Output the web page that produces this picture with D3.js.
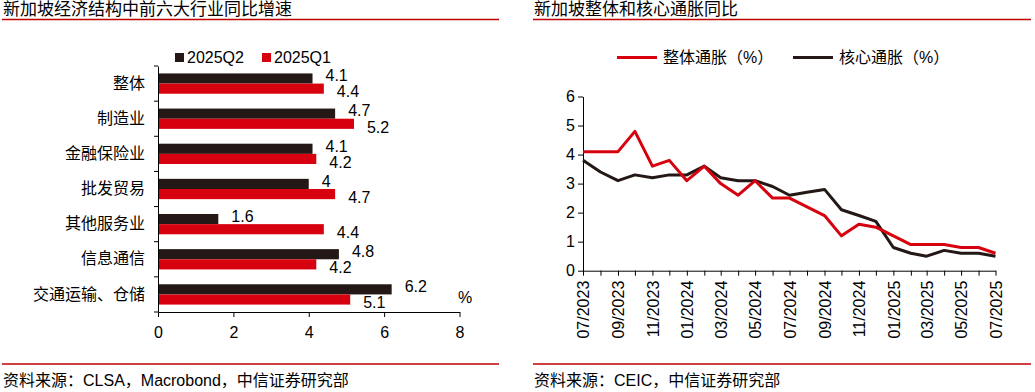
<!DOCTYPE html>
<html>
<head>
<meta charset="utf-8">
<script src="https://cdn.jsdelivr.net/npm/d3@7"></script>
<style>
  body { margin: 0; background: #fff; }
  svg text { font-family: "Liberation Sans", Arial, "Noto Sans CJK SC", sans-serif; fill: #000; }
</style>
</head>
<body>
<svg id="chart" width="1035" height="392"></svg>
<script>
  /* -----------------------
      DATA
   -------------------------- */

  //-- LEFT: SECTOR GROWTH
  var sectors = ['整体', '制造业', '金融保险业', '批发贸易', '其他服务业', '信息通信', '交通运输、仓储'];
  var seriesNames = ['2025Q2', '2025Q1'];
  var q2Values = [4.1, 4.7, 4.1, 4.0, 1.6, 4.8, 6.2];
  var q1Values = [4.4, 5.2, 4.2, 4.7, 4.4, 4.2, 5.1];
  var barTicks = [0, 2, 4, 6, 8];

  //-- RIGHT: INFLATION
  var months = ['2023-07', '2023-08', '2023-09', '2023-10', '2023-11', '2023-12',
    '2024-01', '2024-02', '2024-03', '2024-04', '2024-05', '2024-06',
    '2024-07', '2024-08', '2024-09', '2024-10', '2024-11', '2024-12',
    '2025-01', '2025-02', '2025-03', '2025-04', '2025-05', '2025-06', '2025-07'];
  var headline = [4.1, 4.1, 4.1, 4.8, 3.6, 3.8, 3.1, 3.6, 3.0, 2.6, 3.1, 2.5,
    2.5, 2.2, 1.9, 1.2, 1.6, 1.5, 1.2, 0.9, 0.9, 0.9, 0.8, 0.8, 0.6];
  var core = [3.8, 3.4, 3.1, 3.3, 3.2, 3.3, 3.3, 3.6, 3.2, 3.1, 3.1, 2.9,
    2.6, 2.7, 2.8, 2.1, 1.9, 1.7, 0.8, 0.6, 0.5, 0.7, 0.6, 0.6, 0.5];
  var lineNames = ['整体通胀（%）', '核心通胀（%）'];
  var lineTicks = [0, 1, 2, 3, 4, 5, 6];

  //-- COLORS
  var RED = '#d7000f', BLACK = '#231815';

  var svg = d3.select('#chart');
  var parseMonth = d3.timeParse('%Y-%m');

  /* -----------------------
      FRAME: TITLES, RULES, SOURCES
   -------------------------- */
  function frame(x0, x1, title, source) {
    svg.append('text').attr('x', x0 + 1).attr('y', 15)
      .style('font-size', '17px').text(title);
    svg.append('line').attr('x1', x0).attr('x2', x1).attr('y1', 19.5).attr('y2', 19.5)
      .attr('stroke', '#c00000').attr('stroke-width', 1.3);
    svg.append('line').attr('x1', x0).attr('x2', x1).attr('y1', 364).attr('y2', 364)
      .attr('stroke', '#c00000').attr('stroke-width', 1.3);
    svg.append('text').attr('x', x0 + 1).attr('y', 386)
      .style('font-size', '16px').text(source);
  }
  frame(2, 499, '新加坡经济结构中前六大行业同比增速', '资料来源：CLSA，Macrobond，中信证券研究部');
  frame(533, 1031, '新加坡整体和核心通胀同比', '资料来源：CEIC，中信证券研究部');

  /* -----------------------
      LEFT BAR CHART
   -------------------------- */
  var x = d3.scaleLinear().domain([0, 8]).range([158, 459.5]);
  var y0 = d3.scaleBand().domain(sectors).range([66, 312]);
  var y1 = d3.scaleBand().domain(seriesNames).range([0, y0.bandwidth()]).paddingOuter(0.73);
  var barColor = d3.scaleOrdinal().domain(seriesNames).range([BLACK, RED]);

  var rows = sectors.map(function(s, i) {
    return { sector: s, vals: [
      { key: seriesNames[0], v: q2Values[i] },
      { key: seriesNames[1], v: q1Values[i] }
    ] };
  });

  var g = svg.append('g');
  var grp = g.selectAll('g.row').data(rows).enter().append('g')
    .attr('transform', function(d) { return 'translate(0,' + y0(d.sector) + ')'; });

  grp.selectAll('rect').data(function(d) { return d.vals; }).enter().append('rect')
    .attr('x', x(0))
    .attr('y', function(d) { return y1(d.key); })
    .attr('height', y1.bandwidth())
    .attr('width', function(d) { return x(d.v) - x(0); })
    .attr('fill', function(d) { return barColor(d.key); });

  grp.selectAll('text').data(function(d) { return d.vals; }).enter().append('text')
    .attr('x', function(d) { return x(d.v) + 13; })
    .attr('y', function(d, i) { return y1(d.key) + y1.bandwidth() / 2 + (i === 0 ? -3 : 3); })
    .attr('dy', '0.36em')
    .style('font-size', '16px')
    .text(function(d) { return d3.format('')(d.v); });

  //-- AXES
  var xAxis = g.append('g').attr('transform', 'translate(0,312)')
    .call(d3.axisBottom(x).tickValues(barTicks).tickSize(5).tickSizeOuter(0).tickPadding(10));
  var yAxis = g.append('g').attr('transform', 'translate(158,0)')
    .call(d3.axisLeft(y0).tickSize(0).tickPadding(13));
  // category boundary ticks
  g.selectAll('line.bt').data(sectors.concat(['end'])).enter().append('line')
    .attr('x1', 154).attr('x2', 158)
    .attr('y1', function(d, i) { return y0.range()[0] + i * y0.step(); })
    .attr('y2', function(d, i) { return y0.range()[0] + i * y0.step(); })
    .attr('stroke', '#000');

  [xAxis, yAxis].forEach(function(a) {
    a.select('.domain').attr('stroke', '#000');
    a.selectAll('line').attr('stroke', '#000');
    a.selectAll('text').style('font-size', '16px').style('font-family', null).attr('fill', '#000');
  });

  g.append('text').attr('x', 458).attr('y', 297).attr('dy', '0.36em')
    .style('font-size', '16px').text('%');

  //-- LEGEND
  var leg = g.selectAll('g.leg').data(seriesNames).enter().append('g')
    .attr('transform', function(d, i) { return 'translate(' + (175 + i * 87) + ',0)'; });
  leg.append('rect').attr('x', 0).attr('y', 53).attr('width', 9).attr('height', 9)
    .attr('fill', function(d) { return barColor(d); });
  leg.append('text').attr('x', 12).attr('y', 57.5).attr('dy', '0.36em')
    .style('font-size', '16px').text(function(d) { return d; });

  /* -----------------------
      RIGHT LINE CHART
   -------------------------- */
  var dates = months.map(parseMonth);
  var xt = d3.scaleTime().domain(d3.extent(dates)).range([583, 995.5]);
  var yl = d3.scaleLinear().domain([0, 6]).range([270.7, 96.5]);

  var r = svg.append('g');

  var xAxisR = r.append('g').attr('transform', 'translate(0,270.7)')
    .call(d3.axisBottom(xt).tickValues(dates).tickSize(5).tickSizeOuter(0)
      .tickFormat(function(d, i) { return i % 2 === 0 ? d3.timeFormat('%m/%Y')(d) : ''; }));
  xAxisR.selectAll('text')
    .attr('transform', 'rotate(-90)')
    .attr('text-anchor', 'end')
    .attr('x', -10).attr('y', 0).attr('dy', '0.36em');

  var yAxisR = r.append('g').attr('transform', 'translate(583,0)')
    .call(d3.axisLeft(yl).tickValues(lineTicks).tickFormat(d3.format('d'))
      .tickSize(5).tickSizeOuter(0).tickPadding(3));

  [xAxisR, yAxisR].forEach(function(a) {
    a.select('.domain').attr('stroke', '#000');
    a.selectAll('line').attr('stroke', '#000');
    a.selectAll('text').style('font-size', '16px').style('font-family', null).attr('fill', '#000');
  });

  var lineFunc = d3.line()
    .x(function(d, i) { return xt(dates[i]); })
    .y(function(d) { return yl(d); });

  var lineSeries = [
    { name: lineNames[0], values: headline, color: RED },
    { name: lineNames[1], values: core, color: BLACK }
  ];

  r.selectAll('path.series').data(lineSeries.slice().reverse()).enter().append('path')
    .attr('class', 'series')
    .attr('d', function(d) { return lineFunc(d.values); })
    .attr('fill', 'none')
    .attr('stroke', function(d) { return d.color; })
    .attr('stroke-width', 3)
    .attr('stroke-linejoin', 'round');

  //-- LEGEND
  var legR = r.selectAll('g.legr').data(lineSeries).enter().append('g')
    .attr('transform', function(d, i) { return 'translate(' + (617 + i * 176) + ',0)'; });
  legR.append('line').attr('x1', 0).attr('x2', 40).attr('y1', 57.5).attr('y2', 57.5)
    .attr('stroke', function(d) { return d.color; }).attr('stroke-width', 3);
  legR.append('text').attr('x', 46).attr('y', 57.5).attr('dy', '0.36em')
    .style('font-size', '16px').text(function(d) { return d.name; });
</script>
</body>
</html>
